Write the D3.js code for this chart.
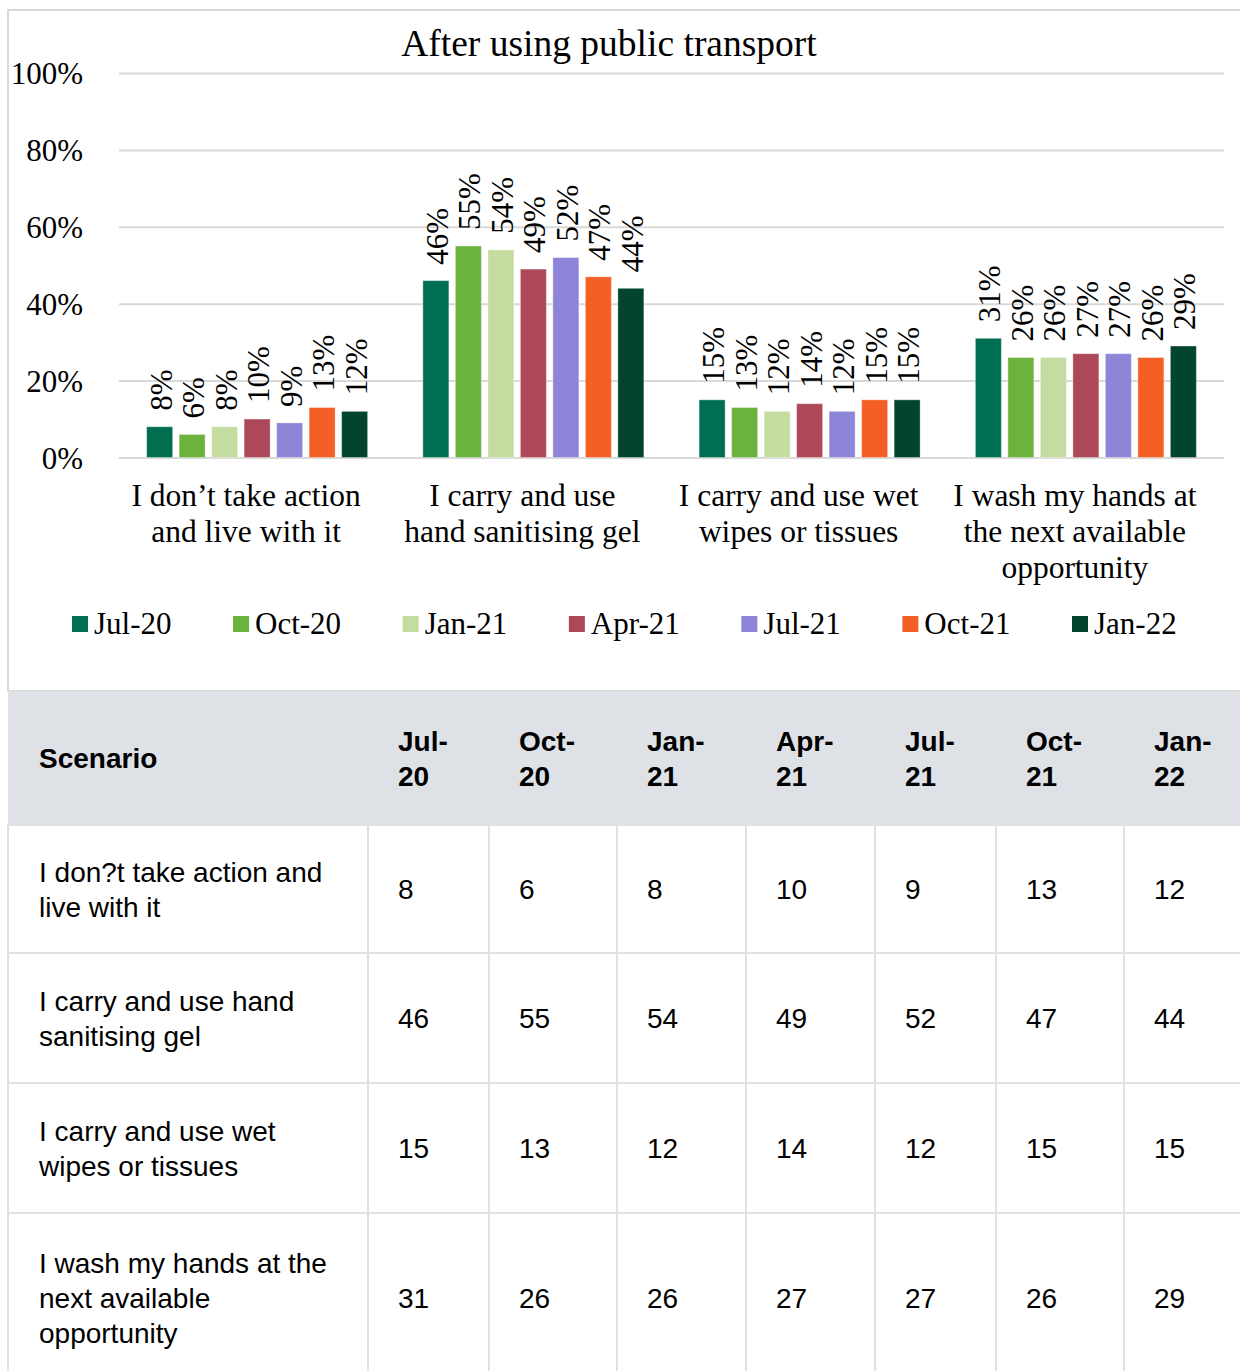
<!DOCTYPE html>
<html>
<head>
<meta charset="utf-8">
<script src="https://cdn.jsdelivr.net/npm/d3@7"></script>
<style>
  body { margin: 0; background: #fff; }
  svg { display: block; }
</style>
</head>
<body>
<div id="chart"></div>
<script>
// data
const series = ['Jul-20', 'Oct-20', 'Jan-21', 'Apr-21', 'Jul-21', 'Oct-21', 'Jan-22']
const colors = ['#006f51', '#6cb33e', '#c4dc9f', '#ad4859', '#8d85d7', '#f35f24', '#034431']

const categoryLines = [
  ['I don’t take action', 'and live with it'],
  ['I carry and use', 'hand sanitising gel'],
  ['I carry and use wet', 'wipes or tissues'],
  ['I wash my hands at', 'the next available', 'opportunity']
]
const tableScenarios = [
  'I don?t take action and live with it',
  'I carry and use hand sanitising gel',
  'I carry and use wet wipes or tissues',
  'I wash my hands at the next available opportunity'
]

const dontTakeAction = [8, 6, 8, 10, 9, 13, 12]
const handGel = [46, 55, 54, 49, 52, 47, 44]
const wetWipes = [15, 13, 12, 14, 12, 15, 15]
const washHands = [31, 26, 26, 27, 27, 26, 29]
const seriesByCategory = [dontTakeAction, handGel, wetWipes, washHands]

const yTicks = [0, 20, 40, 60, 80, 100]

const serif = '"Liberation Serif", "Times New Roman", serif'
const sans = '"Liberation Sans", Arial, sans-serif'

const W = 1240
const H = 1371

const svg = d3
  .select('#chart')
  .append('svg')
  .attr('width', W)
  .attr('height', H)

// chart frame
svg
  .append('rect')
  .attr('x', 8)
  .attr('y', 10)
  .attr('width', W + 10)
  .attr('height', 681)
  .attr('fill', '#fff')
  .attr('stroke', '#d9d9d9')
  .attr('stroke-width', 2)

const x0 = d3
  .scaleBand()
  .domain(d3.range(categoryLines.length))
  .range([119, 1224])
  .paddingInner(0.2)
  .paddingOuter(0.1)

const x1 = d3
  .scaleBand()
  .domain(series)
  .range([0, x0.bandwidth()])
  .paddingInner(0.2)

const y = d3.scaleLinear().domain([0, 100]).range([457.5, 73])

// title
svg
  .append('text')
  .attr('x', 609)
  .attr('y', 56)
  .attr('text-anchor', 'middle')
  .style('font-family', serif)
  .style('font-size', '37.5px')
  .attr('fill', '#000')
  .text('After using public transport')

// gridlines + y labels
const yAxis = d3
  .axisLeft(y)
  .tickValues(yTicks)
  .tickSize(-(1224 - 119))
  .tickPadding(36)
  .tickFormat(d => d + '%')

svg
  .append('g')
  .attr('class', 'y-axis')
  .attr('transform', 'translate(119,0)')
  .call(yAxis)
  .call(g => g.select('.domain').remove())
  .call(g => g.selectAll('.tick line').attr('stroke', '#d9d9d9').attr('stroke-width', 2))
  .call(g =>
    g
      .selectAll('.tick text')
      .attr('fill', '#000')
      .attr('dy', '0.34em')
      .style('font-family', serif)
      .style('font-size', '31px')
  )

// bars
const groups = svg
  .selectAll('.group')
  .data(seriesByCategory)
  .enter()
  .append('g')
  .attr('class', 'group')
  .attr('transform', (d, i) => 'translate(' + x0(i) + ',0)')

const bars = groups
  .selectAll('.bar')
  .data(vals => vals.map((v, j) => ({ key: series[j], value: v, color: colors[j] })))
  .enter()

bars
  .append('rect')
  .attr('class', 'bar')
  .attr('x', d => x1(d.key))
  .attr('width', x1.bandwidth())
  .attr('y', d => y(d.value))
  .attr('height', d => y(0) - y(d.value))
  .attr('fill', d => d.color)
  .attr('stroke', '#fff')
  .attr('stroke-opacity', 0.35)
  .attr('stroke-width', 1)

bars
  .append('text')
  .attr('class', 'bar-label')
  .attr('transform', d => {
    const cx = x1(d.key) + x1.bandwidth() / 2 + 12
    const cy = y(d.value) - 16
    return 'translate(' + cx + ',' + cy + ') rotate(-90)'
  })
  .style('font-family', serif)
  .style('font-size', '31px')
  .attr('fill', '#000')
  .text(d => d.value + '%')

// category labels
const catLabels = svg
  .selectAll('.cat-label')
  .data(categoryLines)
  .enter()
  .append('text')
  .attr('class', 'cat-label')
  .attr('text-anchor', 'middle')
  .style('font-family', serif)
  .style('font-size', '31.5px')
  .attr('fill', '#000')

catLabels
  .selectAll('tspan')
  .data((lines, i) => lines.map(l => ({ line: l, i: i })))
  .enter()
  .append('tspan')
  .attr('x', d => x0(d.i) + x0.bandwidth() / 2 - 11)
  .attr('y', (d, k) => 506 + k * 36)
  .text(d => d.line)

// legend: items laid out by text width, first at 72, last at 1072
const legend = svg
  .selectAll('.legend')
  .data(series)
  .enter()
  .append('g')
  .attr('class', 'legend')

legend
  .append('rect')
  .attr('width', 16)
  .attr('height', 16)
  .attr('fill', (d, i) => colors[i])

legend
  .append('text')
  .attr('x', 22)
  .attr('y', 18)
  .style('font-family', serif)
  .style('font-size', '31px')
  .attr('fill', '#000')
  .text(d => d)

const textW = legend.select('text').nodes().map(n => n.getComputedTextLength())
const gap = (1072 - 72 - d3.sum(textW.slice(0, -1))) / (series.length - 1)
let lx = 72
legend.attr('transform', (d, i) => {
  const pos = lx
  lx += textW[i] + gap
  return 'translate(' + pos + ',616)'
})

// table
const colWidths = [360, 121, 128, 129, 129, 121, 128, 140]
const colX = [8]
colWidths.forEach((w, i) => colX.push(colX[i] + w))
const headerTop = 691
const headerH = 134
const rowHeights = [128, 130, 130, 170]
const rowY = [headerTop + headerH]
rowHeights.forEach((h, i) => rowY.push(rowY[i] + h))
const lineH = 35
const pad = 30

const table = svg.append('g').attr('class', 'table')

table
  .append('rect')
  .attr('x', 8)
  .attr('y', headerTop)
  .attr('width', W)
  .attr('height', headerH)
  .attr('fill', '#dee2e6')

function block(g, lines, x, cy, bold) {
  const t = g
    .append('text')
    .style('font-family', sans)
    .style('font-size', '28px')
    .style('font-weight', bold ? 'bold' : 'normal')
    .attr('fill', '#000')
  const top = cy - ((lines.length - 1) * lineH) / 2 + 10
  lines.forEach((l, k) => {
    t.append('tspan').attr('x', x).attr('y', top + k * lineH).text(l)
  })
}

// header
block(table, ['Scenario'], colX[0] + 31, headerTop + headerH / 2, true)
series.forEach((s, j) => {
  const parts = s.split('-')
  block(table, [parts[0] + '-', parts[1]], colX[j + 1] + pad, headerTop + headerH / 2, true)
})

// wrap helper using a hidden measuring text
const measure = svg
  .append('text')
  .style('font-family', sans)
  .style('font-size', '28px')
  .attr('visibility', 'hidden')

function wrap(str, maxW) {
  const words = str.split(' ')
  const lines = []
  let cur = ''
  words.forEach(w => {
    const test = cur ? cur + ' ' + w : w
    measure.text(test)
    if (measure.node().getComputedTextLength() > maxW && cur) {
      lines.push(cur)
      cur = w
    } else {
      cur = test
    }
  })
  lines.push(cur)
  return lines
}

// body rows
tableScenarios.forEach((sc, r) => {
  const top = rowY[r]
  const h = rowHeights[r]
  colWidths.forEach((w, c) => {
    table
      .append('rect')
      .attr('x', colX[c])
      .attr('y', top)
      .attr('width', w)
      .attr('height', h)
      .attr('fill', '#fff')
      .attr('stroke', '#dee2e6')
      .attr('stroke-width', 2)
  })
  block(table, wrap(sc, 305), colX[0] + 31, top + h / 2, false)
  seriesByCategory[r].forEach((v, j) => {
    block(table, [String(v)], colX[j + 1] + pad, top + h / 2, false)
  })
})

measure.remove()
</script>
</body>
</html>
